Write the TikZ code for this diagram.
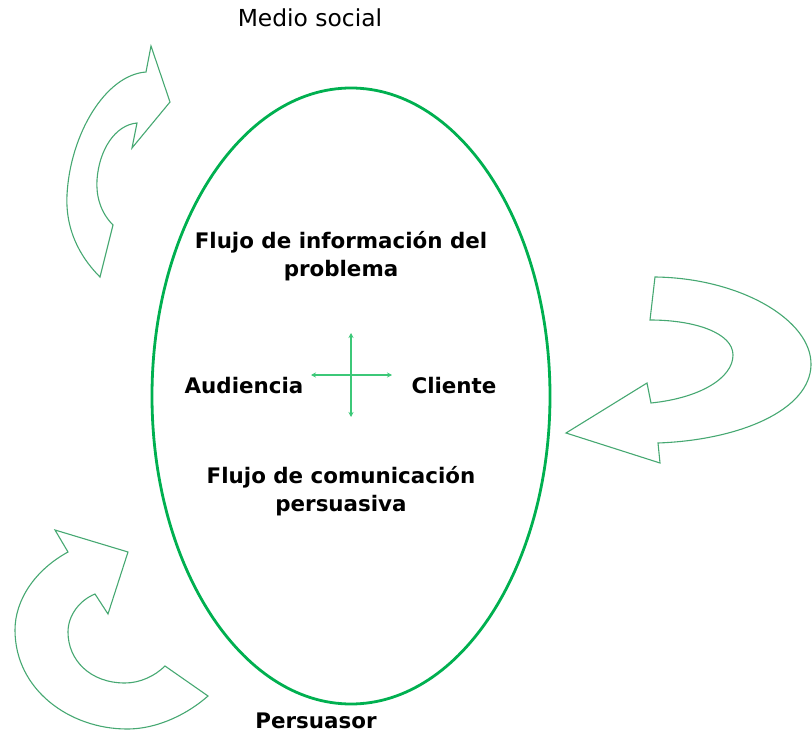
\documentclass[tikz,border=0pt]{standalone}
\usepackage{fontspec}
\setmainfont{DejaVu Sans}
\usetikzlibrary{arrows.meta}
\definecolor{ovalgreen}{HTML}{00B050}
\definecolor{arrowline}{HTML}{46A872}
\definecolor{crossgreen}{HTML}{3CC878}
\tikzset{
  bigarrow/.style={draw=arrowline, line width=1.1pt, line join=miter},
  oval/.style={draw=ovalgreen, line width=2.8pt},
  crossarrow/.style={draw=crossgreen, line width=1.2pt, {Stealth[length=5pt,width=5pt]}-{Stealth[length=5pt,width=5pt]}},
  boldlabel/.style={font=\bfseries\fontsize{21.4}{28}\selectfont, inner sep=0pt, align=center},
  plainlabel/.style={font=\fontsize{23.4}{26}\selectfont, inner sep=0pt}
}
\begin{document}
\begin{tikzpicture}[x=1pt,y=-1pt]
\useasboundingbox (0,0) rectangle (812,733);
% main oval
\draw[oval] (351,396) ellipse [x radius=199pt, y radius=308pt];
% top-left curved arrow
\draw[bigarrow] (170,102) -- (151,46) -- (146,72)
  .. controls (105,75) and (70,135) .. (67,195)
  .. controls (65,235) and (85,262) .. (100,277)
  -- (113,225)
  .. controls (100,212) and (96,195) .. (97,180)
  .. controls (99,150) and (115,125) .. (137,123)
  -- (132,148) -- cycle;
% right curved arrow
\draw[bigarrow] (655,277)
  .. controls (740,278) and (812,320) .. (811,365)
  .. controls (810,410) and (740,440) .. (658,443)
  -- (660,463) -- (566,433) -- (647,383) -- (651,403)
  .. controls (700,398) and (733,378) .. (733,355)
  .. controls (733,333) and (695,320) .. (650,320)
  -- cycle;
% bottom-left curved arrow
\draw[bigarrow] (128,552) -- (55,530) -- (68,552)
  .. controls (35,570) and (15,600) .. (15,630)
  .. controls (15,690) and (70,729) .. (127,729)
  .. controls (160,729) and (190,712) .. (208,696)
  -- (165,666)
  .. controls (155,676) and (140,683) .. (125,683)
  .. controls (90,683) and (68,660) .. (68,632)
  .. controls (68,615) and (80,600) .. (95,594)
  -- (108,614) -- cycle;
% labels
\node[plainlabel, anchor=base] (medio) at (310,27) {Medio social};
\node[boldlabel] (info) at (341,256) {Flujo de información del\\problema};
\node[boldlabel, anchor=base] (aud) at (244,393) {Audiencia};
\node[boldlabel, anchor=base] (cli) at (454,393) {Cliente};
\node[boldlabel] (com) at (341,491) {Flujo de comunicación\\persuasiva};
\node[boldlabel, anchor=base] (pers) at (316,728) {Persuasor};
% cross arrows
\coordinate (ctop) at (351,333);
\coordinate (cbot) at (351,417);
\coordinate (cleft) at (311,375);
\coordinate (cright) at (392,375);
\draw[crossarrow] (ctop) -- (cbot);
\draw[crossarrow] (cleft) -- (cright);
\end{tikzpicture}
\end{document}
